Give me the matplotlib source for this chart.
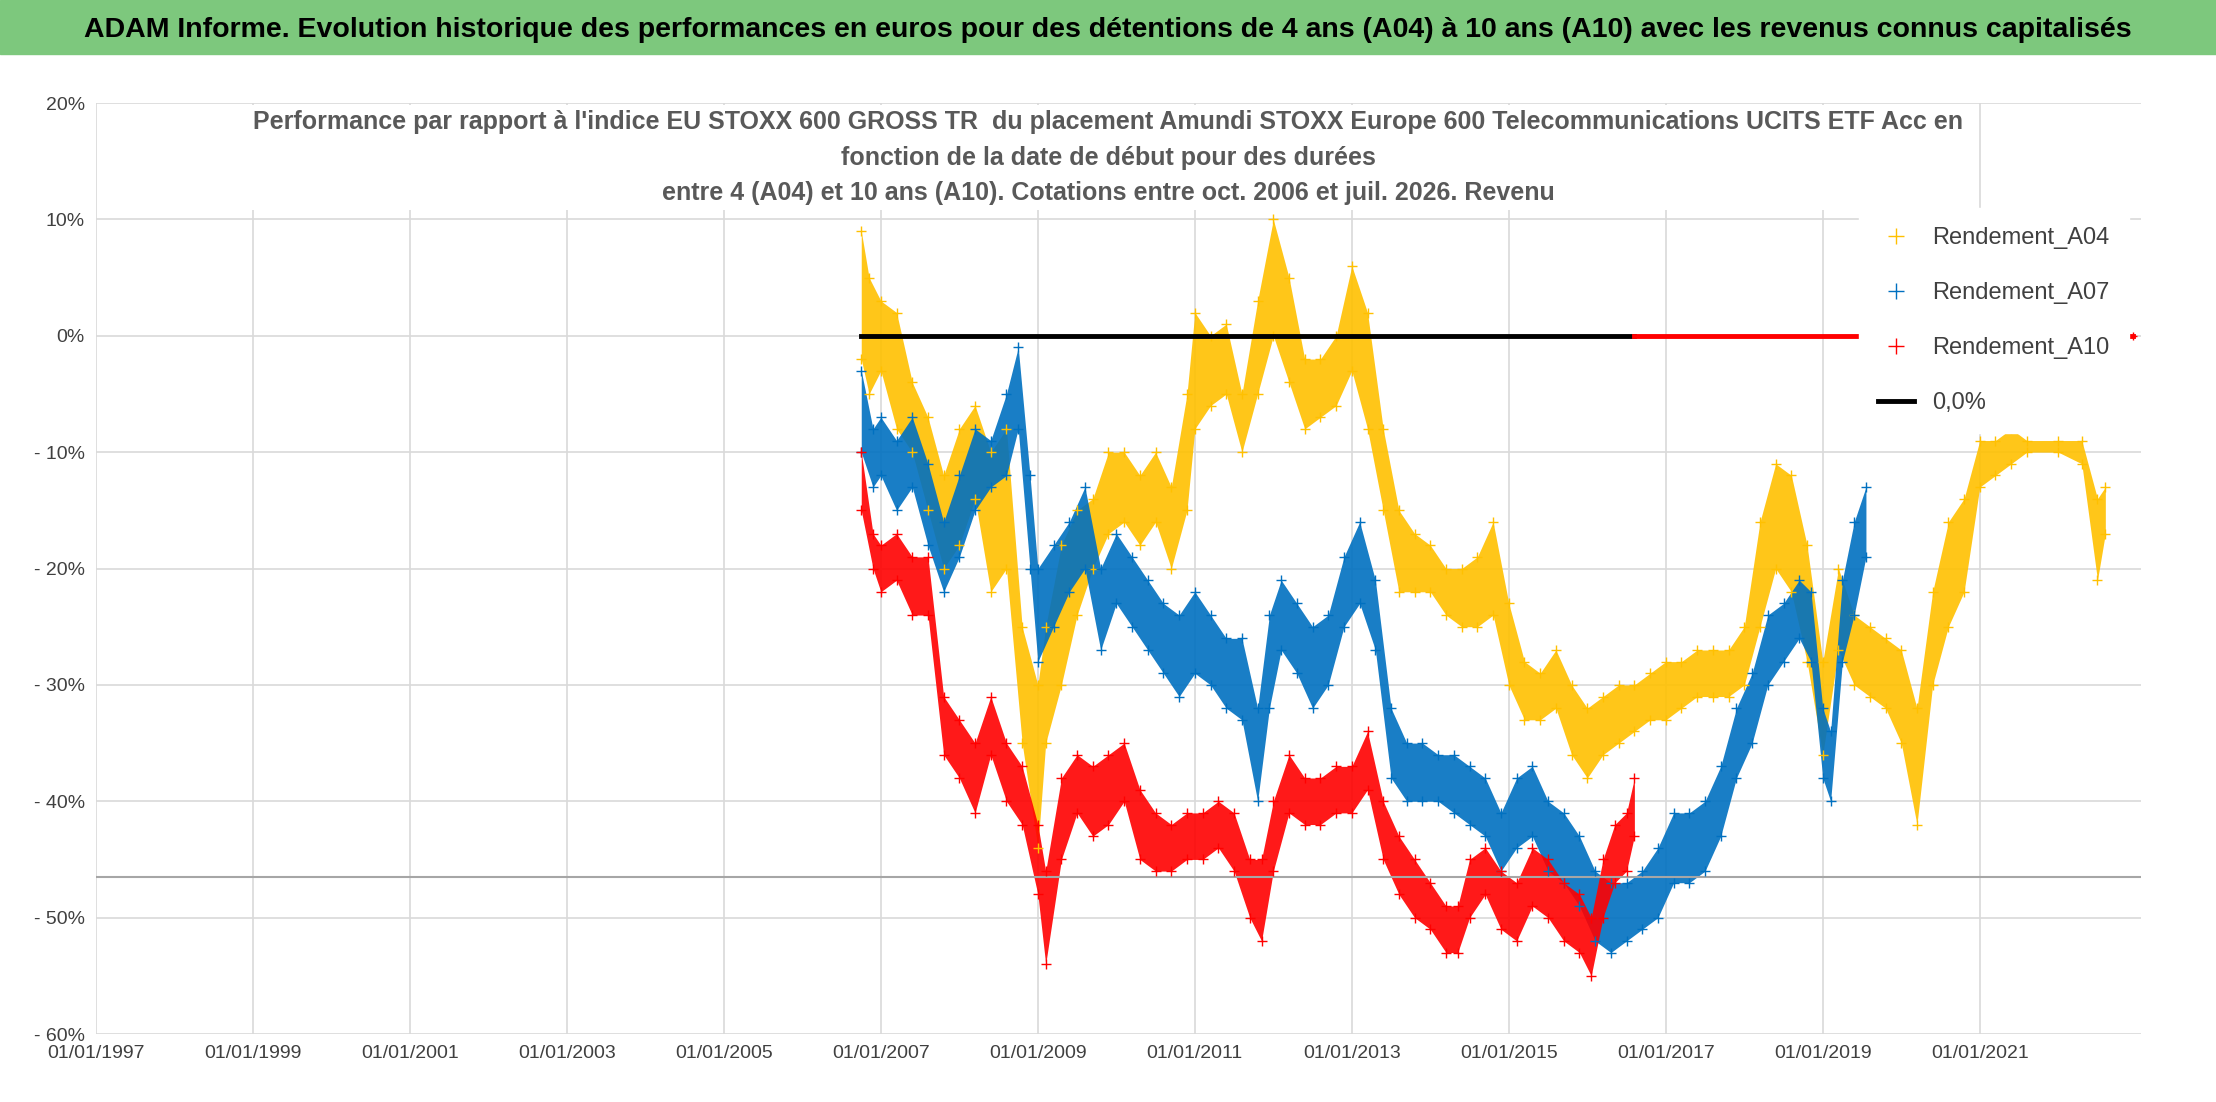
import numpy as np
import matplotlib.pyplot as plt

plt.rcParams['font.family'] = ['Liberation Sans Narrow', 'Liberation Sans', 'DejaVu Sans']

# dates in decimal years, band low / high in %
a04_t = [2006.75, 2006.85, 2007.0, 2007.2, 2007.4, 2007.6, 2007.8, 2008.0, 2008.2, 2008.4, 2008.6, 2008.8,
         2009.0, 2009.1, 2009.3, 2009.5, 2009.7, 2009.9, 2010.1, 2010.3, 2010.5, 2010.7, 2010.9, 2011.0,
         2011.2, 2011.4, 2011.6, 2011.8, 2012.0, 2012.2, 2012.4, 2012.6, 2012.8, 2013.0, 2013.2, 2013.4,
         2013.6, 2013.8, 2014.0, 2014.2, 2014.4, 2014.6, 2014.8, 2015.0, 2015.2, 2015.4, 2015.6, 2015.8,
         2016.0, 2016.2, 2016.4, 2016.6, 2016.8, 2017.0, 2017.2, 2017.4, 2017.6, 2017.8, 2018.0, 2018.2,
         2018.4, 2018.6, 2018.8, 2019.0, 2019.2, 2019.4, 2019.6, 2019.8, 2020.0, 2020.2, 2020.4, 2020.6,
         2020.8, 2021.0, 2021.2, 2021.4, 2021.6, 2022.0, 2022.3, 2022.5, 2022.6]
a04_lo = [-2, -5, -3, -8, -10, -15, -20, -18, -14, -22, -20, -35,
          -44, -35, -30, -24, -20, -17, -16, -18, -16, -20, -15, -8,
          -6, -5, -10, -5, 0, -4, -8, -7, -6, -3, -8, -15,
          -22, -22, -22, -24, -25, -25, -24, -30, -33, -33, -32, -36,
          -38, -36, -35, -34, -33, -33, -32, -31, -31, -31, -30, -25,
          -20, -22, -28, -36, -27, -30, -31, -32, -35, -42, -30, -25,
          -22, -13, -12, -11, -10, -10, -11, -21, -17]
a04_hi = [9, 5, 3, 2, -4, -7, -12, -8, -6, -10, -8, -25,
          -30, -25, -18, -15, -14, -10, -10, -12, -10, -13, -5, 2,
          0, 1, -5, 3, 10, 5, -2, -2, 0, 6, 2, -8,
          -15, -17, -18, -20, -20, -19, -16, -23, -28, -29, -27, -30,
          -32, -31, -30, -30, -29, -28, -28, -27, -27, -27, -25, -16,
          -11, -12, -18, -28, -20, -24, -25, -26, -27, -32, -22, -16,
          -14, -9, -9, -8, -9, -9, -9, -14, -13]

a07_t = [2006.75, 2006.9, 2007.0, 2007.2, 2007.4, 2007.6, 2007.8, 2008.0, 2008.2, 2008.4, 2008.6, 2008.75,
         2008.9, 2009.0, 2009.2, 2009.4, 2009.6, 2009.8, 2010.0, 2010.2, 2010.4, 2010.6, 2010.8, 2011.0,
         2011.2, 2011.4, 2011.6, 2011.8, 2011.95, 2012.1, 2012.3, 2012.5, 2012.7, 2012.9, 2013.1, 2013.3,
         2013.5, 2013.7, 2013.9, 2014.1, 2014.3, 2014.5, 2014.7, 2014.9, 2015.1, 2015.3, 2015.5, 2015.7,
         2015.9, 2016.1, 2016.3, 2016.5, 2016.7, 2016.9, 2017.1, 2017.3, 2017.5, 2017.7, 2017.9, 2018.1,
         2018.3, 2018.5, 2018.7, 2018.85, 2019.0, 2019.1, 2019.25, 2019.4, 2019.55]
a07_lo = [-10, -13, -12, -15, -13, -18, -22, -19, -15, -13, -12, -8,
          -20, -28, -25, -22, -20, -27, -23, -25, -27, -29, -31, -29,
          -30, -32, -33, -40, -32, -27, -29, -32, -30, -25, -23, -27,
          -38, -40, -40, -40, -41, -42, -43, -46, -44, -43, -46, -47,
          -49, -52, -53, -52, -51, -50, -47, -47, -46, -43, -38, -35,
          -30, -28, -26, -28, -38, -40, -28, -24, -19]
a07_hi = [-3, -8, -7, -9, -7, -11, -16, -12, -8, -9, -5, -1,
          -12, -20, -18, -16, -13, -20, -17, -19, -21, -23, -24, -22,
          -24, -26, -26, -32, -24, -21, -23, -25, -24, -19, -16, -21,
          -32, -35, -35, -36, -36, -37, -38, -41, -38, -37, -40, -41,
          -43, -46, -47, -47, -46, -44, -41, -41, -40, -37, -32, -29,
          -24, -23, -21, -22, -32, -34, -21, -16, -13]

a10_t = [2006.75, 2006.9, 2007.0, 2007.2, 2007.4, 2007.6, 2007.8, 2008.0, 2008.2, 2008.4, 2008.6, 2008.8,
         2009.0, 2009.1, 2009.3, 2009.5, 2009.7, 2009.9, 2010.1, 2010.3, 2010.5, 2010.7, 2010.9, 2011.1,
         2011.3, 2011.5, 2011.7, 2011.85, 2012.0, 2012.2, 2012.4, 2012.6, 2012.8, 2013.0, 2013.2, 2013.4,
         2013.6, 2013.8, 2014.0, 2014.2, 2014.35, 2014.5, 2014.7, 2014.9, 2015.1, 2015.3, 2015.5, 2015.7,
         2015.9, 2016.05, 2016.2, 2016.35, 2016.5, 2016.6]
a10_lo = [-15, -20, -22, -21, -24, -24, -36, -38, -41, -36, -40, -42,
          -48, -54, -45, -41, -43, -42, -40, -45, -46, -46, -45, -45,
          -44, -46, -50, -52, -46, -41, -42, -42, -41, -41, -39, -45,
          -48, -50, -51, -53, -53, -50, -48, -51, -52, -49, -50, -52,
          -53, -55, -50, -47, -46, -43]
a10_hi = [-10, -17, -18, -17, -19, -19, -31, -33, -35, -31, -35, -37,
          -42, -46, -38, -36, -37, -36, -35, -39, -41, -42, -41, -41,
          -40, -41, -45, -45, -40, -36, -38, -38, -37, -37, -34, -40,
          -43, -45, -47, -49, -49, -45, -44, -46, -47, -44, -45, -47,
          -48, -50, -45, -42, -41, -38]

zero_black = [2006.75, 2016.6]
zero_red = [2016.6, 2022.95]
xticks = list(range(1997, 2022, 2))
xlabels = ['01/01/%d' % y for y in xticks]

YEL, BLU, RED = '#FFC000', '#0070C0', '#FF0000'

fig = plt.figure(figsize=(22.16, 11.02), dpi=100)
fig.patch.set_facecolor('white')
fig.add_artist(plt.Rectangle((0, 0.951), 1, 0.049, transform=fig.transFigure, color='#7DC87D'))
fig.text(0.5, 0.973, 'ADAM Informe. Evolution historique des performances en euros pour des détentions de 4 ans (A04) à 10 ans (A10) avec les revenus connus capitalisés',
         ha='center', va='center', fontsize=20.5, fontweight='bold', color='black')

ax = fig.add_axes([0.0433, 0.0617, 0.9227, 0.8448])
ax.set_xlim(1997, 2023.05)
ax.set_ylim(-60, 20)
ax.set_yticks(range(-60, 21, 10))
ax.set_yticklabels(['- %d%%' % -v if v < 0 else '%d%%' % v for v in range(-60, 21, 10)], fontsize=14, color='#404040')
ax.set_xticks(xticks)
ax.set_xticklabels(xlabels, fontsize=14, color='#404040')
ax.grid(True, color='#D9D9D9', lw=1.2)
ax.set_axisbelow(True)
for s in ax.spines.values():
    s.set_visible(False)
ax.tick_params(length=0, pad=8)
ax.axhline(-46.5, color='#A6A6A6', lw=1.5)

for t, lo, hi, c, lab in [(a04_t, a04_lo, a04_hi, YEL, 'Rendement_A04'),
                          (a07_t, a07_lo, a07_hi, BLU, 'Rendement_A07'),
                          (a10_t, a10_lo, a10_hi, RED, 'Rendement_A10')]:
    ax.fill_between(t, lo, hi, color=c, alpha=0.9, lw=0)
    ax.plot(t, lo, '+', color=c, ms=7)
    ax.plot(t, hi, '+', color=c, ms=7, label=lab)

ax.plot(zero_black, [0, 0], color='black', lw=3.5, label='0,0%')
ax.plot(zero_red, [0, 0], color=RED, lw=3.5, marker='+', markevery=[1])

leg = ax.legend(loc='upper right', bbox_to_anchor=(1.0, 0.9), fontsize=17, frameon=True,
                edgecolor='white', framealpha=1, labelspacing=1.4, handlelength=1.5, borderpad=0.8,
                markerscale=1.6)
for txt in leg.get_texts():
    txt.set_color('#404040')

fig.text(0.5, 0.857, "Performance par rapport à l'indice EU STOXX 600 GROSS TR  du placement Amundi STOXX Europe 600 Telecommunications UCITS ETF Acc en\n"
         "fonction de la date de début pour des durées\n"
         "entre 4 (A04) et 10 ans (A10). Cotations entre oct. 2006 et juil. 2026. Revenu",
         ha='center', va='center', fontsize=18, color='#595959', fontweight='bold', linespacing=1.6,
         bbox=dict(facecolor='white', edgecolor='none', pad=4))

fig.savefig('out.png', dpi=100)
